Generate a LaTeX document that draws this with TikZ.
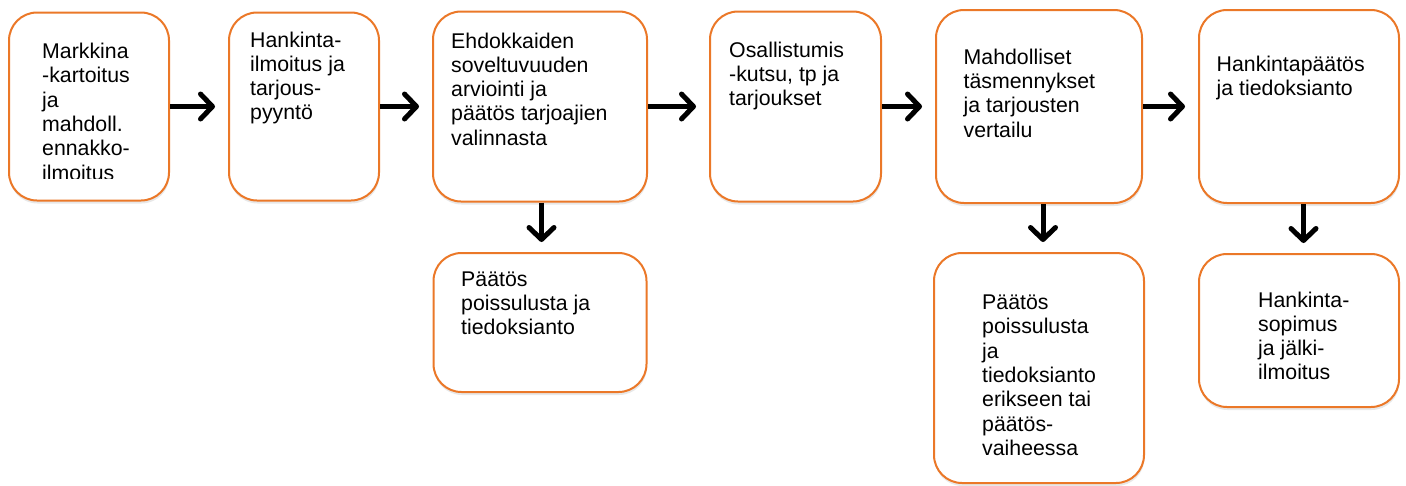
\documentclass[tikz,border=0pt]{standalone}
\usepackage{fontspec}
\setmainfont{Liberation Sans}
\usetikzlibrary{arrows.meta}
\usetikzlibrary{shadows}
\definecolor{boxorange}{RGB}{235,120,40}

\begin{document}
\begin{tikzpicture}[x=1pt, y=-1pt,
  box/.style={draw=boxorange, line width=2pt, rounded corners=28pt, fill=white,
    inner sep=0pt, drop shadow={shadow xshift=0.5pt, shadow yshift=-3pt, opacity=0.18}},
  txt/.style={anchor=north west, align=left, inner sep=0pt,
    font=\fontsize{21.3}{24.3}\selectfont},
  flow/.style={line width=5pt, -{Straight Barb[length=12pt, width=25pt, round]}}]
\useasboundingbox (0,0) rectangle (1406,485);

% upper row
\node[box, minimum width=160pt, minimum height=188pt] (kartoitus) at (89,106.5) {};
\node[box, minimum width=150pt, minimum height=188pt] (ilmoitus)  at (304,106.5) {};
\node[box, minimum width=214pt, minimum height=190pt] (arviointi) at (540,106.5) {};
\node[box, minimum width=171pt, minimum height=190pt] (kutsu)     at (795.5,106.5) {};
\node[box, minimum width=206pt, minimum height=193pt] (vertailu)  at (1039,106.5) {};
\node[box, minimum width=200pt, minimum height=193pt] (paatos)    at (1299,106.5) {};

% lower row
\node[box, minimum width=213pt, minimum height=139pt] (poissulku)  at (540,322.5) {};
\node[box, minimum width=210pt, minimum height=230pt] (poissulku2) at (1039,368) {};
\node[box, minimum width=200pt, minimum height=153pt] (sopimus)    at (1299,330.5) {};

% texts
\begin{scope}
  \clip (0,0) rectangle (200,178);
  \node[txt] (kartoitus-t) at (42,43)
    {Markkina\\-kartoitus\\ja\\mahdoll.\\ennakko-\\ilmoitus};
\end{scope}
\node[txt] (ilmoitus-t)  at (250,31.4)   {Hankinta-\\ilmoitus ja\\tarjous-\\pyyntö};
\node[txt] (arviointi-t) at (451,32.4)   {Ehdokkaiden\\soveltuvuuden\\arviointi ja\\päätös tarjoajien\\valinnasta};
\node[txt] (kutsu-t)     at (729,41.4)   {Osallistumis\\-kutsu, tp ja\\tarjoukset};
\node[txt] (vertailu-t)  at (963.5,48.7) {Mahdolliset\\täsmennykset\\ja tarjousten\\vertailu};
\node[txt] (paatos-t)    at (1216.5,55.4) {Hankintapäätös\\ja tiedoksianto};
\node[txt] (poissulku-t) at (461,271.4)  {Päätös\\poissulusta ja\\tiedoksianto};
\node[txt] (poissulku2-t) at (982,294.7) {Päätös\\poissulusta\\ja\\tiedoksianto\\erikseen tai\\päätös-\\vaiheessa};
\node[txt] (sopimus-t)   at (1258,291.4) {Hankinta-\\sopimus\\ja jälki-\\ilmoitus};

% arrows
\draw[flow, shorten >=13pt] (kartoitus) -- (ilmoitus);
\draw[flow, shorten >=13pt] (ilmoitus) -- (arviointi);
\draw[flow, shorten >=13pt] (arviointi) -- (kutsu);
\draw[flow, shorten >=13pt] (kutsu) -- (vertailu);
\draw[flow, shorten >=13pt] (vertailu) -- (paatos);
\draw[flow, shorten >=10pt] ([xshift=1.5pt]arviointi.south) -- ([xshift=1.5pt]poissulku.north);
\draw[flow, shorten >=10pt] ([xshift=4pt]vertailu.south) -- ([xshift=4pt]poissulku2.north);
\draw[flow, shorten >=10pt] ([xshift=4.5pt]paatos.south) -- ([xshift=4.5pt]sopimus.north);
\end{tikzpicture}
\end{document}
